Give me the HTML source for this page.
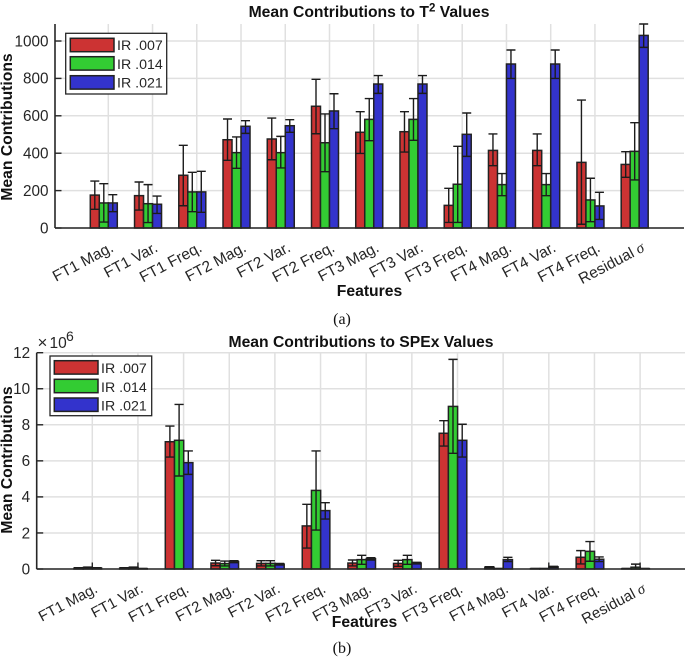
<!DOCTYPE html>
<html>
<head>
<meta charset="utf-8">
<title>Mean Contributions</title>
<style>
html,body{margin:0;padding:0;background:#fff;width:685px;height:657px;overflow:hidden}
svg{display:block;font-family:"Liberation Sans",sans-serif}
.cap{font-family:"Liberation Serif",serif;font-size:16px;fill:#111}
.ttl{font-weight:bold;font-size:15.7px;fill:#111}
.lg{font-size:14.2px;fill:#262626}
</style>
</head>
<body>
<svg id="fig" xmlns="http://www.w3.org/2000/svg" width="685" height="657" viewBox="0 0 685 657">
  <g id="chart-a"></g>
  <g id="chart-b"></g>

  <text class="ttl" x="369" y="17" text-anchor="middle">Mean Contributions to T<tspan dy="-5.5" font-size="11.5">2</tspan><tspan dy="5.5"> Values</tspan></text>
  <text class="ttl" x="361" y="347" text-anchor="middle">Mean Contributions to SPEx Values</text>

  <text class="ttl" transform="translate(12,127) rotate(-90)" text-anchor="middle">Mean Contributions</text>
  <text class="ttl" transform="translate(12,460) rotate(-90)" text-anchor="middle">Mean Contributions</text>
  <text class="ttl" x="369.5" y="296" text-anchor="middle">Features</text>
  <text class="ttl" x="364.5" y="627" text-anchor="middle">Features</text>

  <text x="37.5" y="348" font-size="17" fill="#262626">×<tspan x="49.5" font-size="15.5">10</tspan><tspan x="66" dy="-7" font-size="14">6</tspan></text>

  <text class="cap" x="342" y="324" text-anchor="middle">(a)</text>
  <text class="cap" x="342" y="653" text-anchor="middle">(b)</text>

  <g>
    <rect x="65.7" y="33.3" width="101" height="60.7" fill="#fff" stroke="#262626" stroke-width="1.3"/>
    <rect x="70.3" y="38.3" width="43.7" height="13.4" fill="#cc3333" stroke="#222" stroke-width="1.5"/>
    <rect x="70.3" y="56.7" width="43.7" height="13.4" fill="#33cc33" stroke="#222" stroke-width="1.5"/>
    <rect x="70.3" y="75.7" width="43.7" height="13.4" fill="#3333cc" stroke="#222" stroke-width="1.5"/>
    <text class="lg" x="117" y="50">IR .007</text>
    <text class="lg" x="117" y="69">IR .014</text>
    <text class="lg" x="117" y="87.5">IR .021</text>
  </g>
  <g>
    <rect x="50" y="356" width="101.7" height="59.7" fill="#fff" stroke="#262626" stroke-width="1.3"/>
    <rect x="54.3" y="360.7" width="43.7" height="13.4" fill="#cc3333" stroke="#222" stroke-width="1.5"/>
    <rect x="54.3" y="379.3" width="43.7" height="13.4" fill="#33cc33" stroke="#222" stroke-width="1.5"/>
    <rect x="54.3" y="398" width="43.7" height="13.4" fill="#3333cc" stroke="#222" stroke-width="1.5"/>
    <text class="lg" x="101" y="373">IR .007</text>
    <text class="lg" x="101" y="392">IR .014</text>
    <text class="lg" x="101" y="410.5">IR .021</text>
  </g>
</svg>
<script>
// ---- shared categories ----
const categories = ["FT1 Mag.","FT1 Var.","FT1 Freq.","FT2 Mag.","FT2 Var.","FT2 Freq.","FT3 Mag.","FT3 Var.","FT3 Freq.","FT4 Mag.","FT4 Var.","FT4 Freq.","Residual"];
const seriesNames = ["IR .007","IR .014","IR .021"];
const seriesColors = ["#cc3333","#33cc33","#3333cc"];

// ---- T2 chart values ----
const t2Ticks = [0,200,400,600,800,1000];
const t2Mean007 = [176,173,282,472,476,651,512,515,121,415,415,351,340];
const t2Upper007 = [251,246,442,583,588,795,622,622,212,503,503,684,408];
const t2Lower007 = [100,96,119,362,365,504,399,406,30,333,333,20,271];
const t2Mean014 = [134,130,193,403,403,456,581,581,234,232,232,150,410];
const t2Upper014 = [237,232,298,487,490,610,692,692,437,291,291,266,563];
const t2Lower014 = [32,29,87,319,321,301,467,469,30,173,173,34,257];
const t2Mean021 = [134,127,193,544,547,626,770,770,501,877,877,118,1030];
const t2Upper021 = [178,171,303,574,579,718,815,815,615,952,952,191,1091];
const t2Lower021 = [87,78,84,506,512,531,720,720,383,800,800,46,966];

// ---- SPEx chart values (x 10^6) ----
const spexTicks = [0,2,4,6,8,10,12];
const spexMean007 = [0.05,0.05,7.06,0.33,0.31,2.39,0.33,0.31,7.53,0.10,0.02,0.65,0.02];
const spexUpper007 = [0.07,0.07,7.93,0.48,0.46,3.59,0.50,0.48,8.23,0.13,0.03,1.02,0.03];
const spexLower007 = [0.03,0.03,6.21,0.18,0.17,1.16,0.17,0.15,6.82,0.07,0.01,0.28,0.01];
const spexMean014 = [0.08,0.08,7.14,0.30,0.31,4.36,0.52,0.52,9.02,0.02,0.02,0.98,0.10];
const spexUpper014 = [0.11,0.11,9.13,0.44,0.46,6.55,0.76,0.76,11.63,0.03,0.03,1.52,0.27];
const spexLower014 = [0.05,0.05,5.16,0.17,0.17,2.16,0.26,0.26,6.42,0.01,0.01,0.43,0.00];
const spexMean021 = [0.05,0.02,5.90,0.41,0.27,3.24,0.57,0.33,7.14,0.52,0.12,0.54,0.02];
const spexUpper021 = [0.07,0.03,6.55,0.46,0.31,3.68,0.63,0.37,8.03,0.65,0.15,0.67,0.03];
const spexLower021 = [0.03,0.01,5.25,0.35,0.22,2.77,0.50,0.28,6.21,0.41,0.09,0.41,0.01];

const NS = "http://www.w3.org/2000/svg";
function mk(parent, tag, attrs){
  const el = document.createElementNS(NS, tag);
  for (const k in attrs) el.setAttribute(k, attrs[k]);
  parent.appendChild(el);
  return el;
}

function drawChart(root, prefix, box, ticks, means, uppers, lowers){
  const xTick = i => box.firstTick + i * box.step;
  const xBar = (i, s) => xTick(i) - box.groupShift + (s - 1) * box.barW;
  const y = v => box.bottom - (v / box.yMax) * (box.bottom - box.top);

  // gridlines
  ticks.forEach(t => {
    const g = mk(root, "line", {x1: box.left, x2: box.right, y1: y(t), y2: y(t), stroke: "#e0e0e0", "stroke-width": 1.5});
    
    
  });
  categories.forEach((c, i) => {
    const g = mk(root, "line", {x1: xTick(i), x2: xTick(i), y1: box.top, y2: box.bottom, stroke: "#e0e0e0", "stroke-width": 1.5});
    
    
  });

  // tick marks
  ticks.forEach(t => {
    const m = mk(root, "line", {x1: box.left, x2: box.left + 6.5, y1: y(t), y2: y(t), stroke: "#262626", "stroke-width": 1.4});
    
    
    const l = mk(root, "text", {x: box.left - 6.5, y: y(t) + 5.3, "text-anchor": "end", "font-size": 15.3, fill: "#262626"});
    l.textContent = t;
    
    
  });
  categories.forEach((c, i) => {
    const m = mk(root, "line", {x1: xTick(i), x2: xTick(i), y1: box.bottom, y2: box.bottom - 6.5, stroke: "#262626", "stroke-width": 1.4});
    
    
    const lx = xTick(i) + 6.3, ly = box.bottom + box.labelDrop;
    const l = mk(root, "text", {x: lx, y: ly, "text-anchor": "end", "font-size": box.labelSize, fill: "#262626", transform: "rotate(-28 " + lx + " " + ly + ")"});
    l.textContent = c;
    if (c === "Residual") {
      const sig = mk(l, "tspan", {"font-family": '"Liberation Serif",serif', "font-style": "italic"});
      sig.textContent = " \u03C3";
    }
    
    
  });

  // bars
  means.forEach((series, s) => {
    series.forEach((v, i) => {
      const b = mk(root, "rect", {x: xBar(i, s) - box.barW / 2, y: y(v), width: box.barW, height: box.bottom - y(v), fill: seriesColors[s], stroke: "#222", "stroke-width": 1.5});
      
      
    });
  });

  // error bars
  means.forEach((series, s) => {
    series.forEach((v, i) => {
      const cx = xBar(i, s), half = box.barW / 2;
      const e = mk(root, "path", {
        d: "M" + cx + " " + y(uppers[s][i]) + "V" + y(lowers[s][i]) +
           "M" + (cx - half) + " " + y(uppers[s][i]) + "H" + (cx + half) +
           "M" + (cx - half) + " " + y(lowers[s][i]) + "H" + (cx + half),
        fill: "none", stroke: "#1c1c1c", "stroke-width": 1.4});
      
      
    });
  });

  // axis lines
  const ax = mk(root, "line", {x1: box.left, x2: box.right, y1: box.bottom, y2: box.bottom, stroke: "#262626", "stroke-width": 1.6});
  
  
  const ay = mk(root, "line", {x1: box.left, x2: box.left, y1: box.top, y2: box.bottom, stroke: "#262626", "stroke-width": 1.6});
  
  
}

drawChart(document.getElementById("chart-a"), "t2",
  {left: 55, right: 684, top: 24, bottom: 228, yMax: 1091, firstTick: 108.3, step: 44.24, groupShift: 4.5, barW: 9, labelDrop: 22.7, labelSize: 15.5},
  t2Ticks,
  [t2Mean007, t2Mean014, t2Mean021],
  [t2Upper007, t2Upper014, t2Upper021],
  [t2Lower007, t2Lower014, t2Lower021]);

drawChart(document.getElementById("chart-b"), "spex",
  {left: 36.7, right: 685, top: 352.7, bottom: 569, yMax: 12, firstTick: 92.3, step: 45.65, groupShift: 4.5, barW: 9.2, labelDrop: 22.7, labelSize: 15},
  spexTicks,
  [spexMean007, spexMean014, spexMean021],
  [spexUpper007, spexUpper014, spexUpper021],
  [spexLower007, spexLower014, spexLower021]);
</script>
</body>
</html>
